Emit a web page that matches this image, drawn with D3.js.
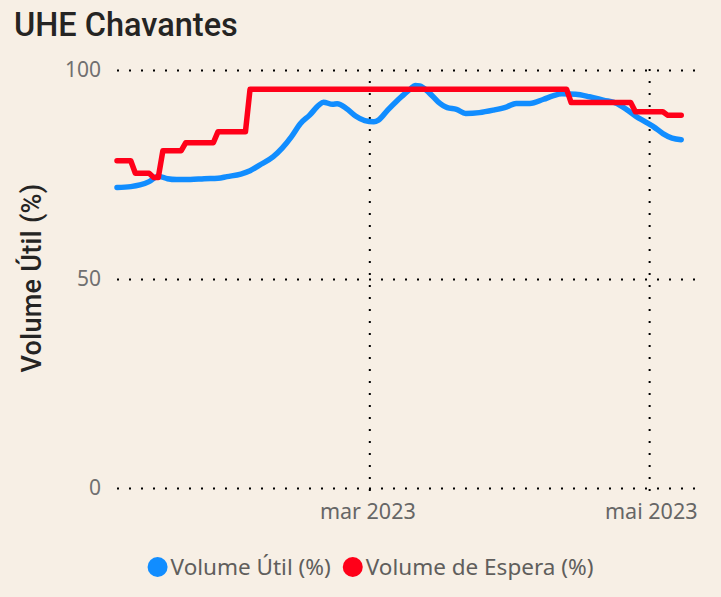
<!DOCTYPE html>
<html>
<head>
<meta charset="utf-8">
<script src="https://cdn.jsdelivr.net/npm/d3@7"></script>
<style>
html, body { margin: 0; padding: 0; background: #f7efe5; }
svg { display: block; }
</style>
</head>
<body>
<svg id="chart" width="721" height="597"></svg>
<script>
/*globals d3*/
// Volume Útil (%) - daily reservoir level
var utilDates = [
    "2023-01-05", "2023-01-08", "2023-01-10", "2023-01-12", "2023-01-14",
    "2023-01-16", "2023-01-18", "2023-01-21", "2023-01-24", "2023-01-27",
    "2023-01-29", "2023-02-01", "2023-02-03", "2023-02-05", "2023-02-08",
    "2023-02-10", "2023-02-12", "2023-02-14", "2023-02-16", "2023-02-18",
    "2023-02-19", "2023-02-21", "2023-02-22", "2023-02-24", "2023-02-26",
    "2023-02-28", "2023-03-02", "2023-03-03", "2023-03-05", "2023-03-07",
    "2023-03-08", "2023-03-10", "2023-03-11", "2023-03-12", "2023-03-14",
    "2023-03-16", "2023-03-18", "2023-03-20", "2023-03-22", "2023-03-25",
    "2023-03-28", "2023-03-31", "2023-04-02", "2023-04-05", "2023-04-08",
    "2023-04-10", "2023-04-12", "2023-04-15", "2023-04-18", "2023-04-21",
    "2023-04-24", "2023-04-26", "2023-04-28", "2023-04-30", "2023-05-02",
    "2023-05-04", "2023-05-06", "2023-05-08"
];
var utilValues = [
    71.9, 72.1, 72.5, 73.3, 74.6,
    74.0, 73.8, 73.8, 74.0, 74.1,
    74.5, 75.1, 75.9, 77.2, 79.2,
    81.3, 84.0, 87.2, 89.2, 91.6,
    92.3, 91.8, 91.9, 90.8, 89.0,
    87.9, 87.6, 88.0, 90.4, 92.6,
    93.6, 95.5, 96.3, 96.2, 94.6,
    92.4, 91.0, 90.6, 89.6, 89.8,
    90.4, 91.2, 92.0, 92.0, 93.0,
    93.8, 94.3, 94.2, 93.6, 92.8,
    92.0, 90.6, 89.0, 87.7, 86.4,
    84.8, 83.7, 83.3
];

// Volume de Espera (%) - flood control target, a step series
var esperaDates = [
    "2023-01-05", "2023-01-08", "2023-01-09", "2023-01-12", "2023-01-13",
    "2023-01-14", "2023-01-15", "2023-01-19", "2023-01-20", "2023-01-26",
    "2023-01-27", "2023-02-02", "2023-02-03", "2023-04-13", "2023-04-14",
    "2023-04-27", "2023-04-28", "2023-05-04", "2023-05-05", "2023-05-08"
];
var esperaValues = [
    78.3, 78.3, 75.3, 75.3, 74.3,
    74.3, 80.7, 80.7, 82.6, 82.6,
    85.2, 85.2, 95.4, 95.4, 92.2,
    92.2, 90.0, 90.0, 89.2, 89.2
];

var yTicks = [0, 50, 100];
var xTicks = ["2023-03-01", "2023-05-01"];
var xTickLabels = ["mar 2023", "mai 2023"];
var seriesNames = ["Volume Útil (%)", "Volume de Espera (%)"];
var seriesColors = ["#118dff", "#ff0019"];

(function () {
    "use strict";
    var parse = d3.timeParse("%Y-%m-%d");
    var svg = d3.select("#chart");

    var left = 117, right = 697, top = 70, bottom = 488;

    var x = d3.scaleTime()
        .domain([parse("2023-01-05"), parse("2023-05-11")])
        .range([left, 695]);
    var y = d3.scaleLinear().domain([0, 100]).range([bottom, top]);

    // title
    svg.append("text")
        .attr("x", 14).attr("y", 36)
        .style("font-family", "Roboto, sans-serif")
        .style("font-weight", 500)
        .style("font-size", "32.5px")
        .style("fill", "#252423")
        .text("UHE Chavantes");

    // y grid + labels
    var yAxis = svg.append("g")
        .attr("transform", "translate(" + left + ",0)")
        .call(d3.axisLeft(y).tickValues(yTicks)
            .tickSize(-(right - left)).tickPadding(16)
            .tickFormat(d3.format("d")));
    yAxis.select(".domain").remove();
    yAxis.selectAll("line")
        .attr("stroke", "#000").attr("stroke-width", 2)
        .attr("stroke-dasharray", "2,10");
    yAxis.selectAll("text")
        .style("font-family", "'Noto Sans', sans-serif")
        .style("font-size", "21px")
        .style("fill", "#707070");

    // x grid + labels
    var xDates = xTicks.map(parse);
    var xAxis = svg.append("g")
        .attr("transform", "translate(0," + (bottom + 3) + ")")
        .call(d3.axisBottom(x).tickValues(xDates)
            .tickSize(-(bottom - top + 8)).tickPadding(13)
            .tickFormat(function (d, i) { return xTickLabels[i]; }));
    xAxis.select(".domain").remove();
    xAxis.selectAll("line")
        .attr("stroke", "#000").attr("stroke-width", 2)
        .attr("stroke-dasharray", "2,10");
    xAxis.selectAll("text")
        .style("font-family", "'Noto Sans', sans-serif")
        .style("font-size", "21.5px")
        .style("fill", "#666")
        .attr("text-anchor", function (d, i) {
            return i === xDates.length - 1 ? "end" : "middle";
        })
        .attr("dx", function (d, i) {
            return i === xDates.length - 1 ? (right - x(d)) : -2;
        });

    // y axis title
    svg.append("text")
        .attr("transform", "translate(41,278) rotate(-90)")
        .attr("text-anchor", "middle")
        .style("font-family", "Roboto, sans-serif")
        .style("font-weight", 500)
        .style("font-size", "27px")
        .style("letter-spacing", "0.3px")
        .style("fill", "#252423")
        .text("Volume Útil (%)");

    // lines
    var line = d3.line()
        .x(function (d) { return x(d[0]); })
        .y(function (d) { return y(d[1]); });

    var util = utilDates.map(function (d, i) { return [parse(d), utilValues[i]]; });
    var espera = esperaDates.map(function (d, i) { return [parse(d), esperaValues[i]]; });

    svg.append("path")
        .attr("d", line.curve(d3.curveMonotoneX)(util))
        .attr("fill", "none")
        .attr("stroke", seriesColors[0])
        .attr("stroke-width", 5.5)
        .attr("stroke-linecap", "round")
        .attr("stroke-linejoin", "round");

    svg.append("path")
        .attr("d", line.curve(d3.curveLinear)(espera))
        .attr("fill", "none")
        .attr("stroke", seriesColors[1])
        .attr("stroke-width", 5.5)
        .attr("stroke-linecap", "round")
        .attr("stroke-linejoin", "round");

    // legend
    var legend = svg.append("g");
    var cx = 0;
    seriesNames.forEach(function (name, i) {
        var item = legend.append("g").attr("transform", "translate(" + cx + ",0)");
        item.append("circle")
            .attr("cx", 10).attr("cy", 0).attr("r", 10)
            .attr("fill", seriesColors[i]);
        var t = item.append("text")
            .attr("x", 23).attr("y", 8)
            .style("font-family", "'Noto Sans', sans-serif")
            .style("font-size", "22.5px")
            .style("fill", "#605e5c")
            .text(name);
        cx += 23 + t.node().getComputedTextLength() + 12;
    });
    var lw = cx - 12;
    legend.attr("transform", "translate(" + (370.5 - lw / 2) + ",567)");
})();
</script>
</body>
</html>
